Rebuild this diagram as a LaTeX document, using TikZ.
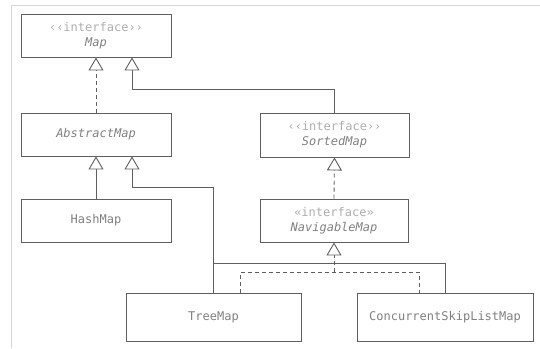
\documentclass[tikz,border=0pt]{standalone}
\usepackage{fontspec}
\setmonofont{DejaVu Sans Mono}
\usetikzlibrary{arrows.meta,positioning,calc}

\definecolor{umlline}{HTML}{5E5E5E}
\definecolor{umltext}{HTML}{808080}
\definecolor{umlstereo}{HTML}{ADADAD}
\definecolor{umlframe}{HTML}{D6D6D6}

\newcommand{\umliface}[2][‹‹interface››]{{\color{umlstereo}#1}\\\textit{#2}}

\begin{document}
\begin{tikzpicture}[x=1pt,y=-1pt,
    classbox/.style={draw=umlline, line width=0.9pt, minimum width=150pt, minimum height=43pt,
        inner sep=0pt, align=center, text=umltext, font=\ttfamily\fontsize{12}{15}\selectfont},
    plain/.style={draw=umlline, line width=0.9pt},
    extends/.style={plain, -{Triangle[length=13pt, width=15pt, fill=white]}},
    dashline/.style={plain, dash pattern=on 4pt off 3pt},
    implements/.style={dashline, -{Triangle[length=13pt, width=15pt, fill=white]}}]
        \useasboundingbox (0,0) rectangle (540,348);

        % Frame
        \draw[umlframe, line width=0.8pt] (11,348) -- (11,5) -- (540,5);

        % Classes
        \node[classbox] (map) at (96,35.5) {\umliface{Map}};
        \node[classbox] (abstract) at (96,134.5) {\textit{AbstractMap}};
        \node[classbox, minimum width=149pt, minimum height=44pt] (sorted) at (334.5,135) {\umliface{SortedMap}};
        \node[classbox] (hash) at (96,220.5) {HashMap};
        \node[classbox, minimum width=148pt] (navigable) at (334,220.5) {\umliface[«interface»]{NavigableMap}};
        \node[classbox, minimum width=175pt, minimum height=48pt] (tree) at (213.5,317) {TreeMap};
        \node[classbox, minimum width=176pt, minimum height=48pt] (cslm) at (445,317) {ConcurrentSkipListMap};

        % Map
        \draw[implements] (abstract.north) -- (map.south);
        \draw[extends] (sorted.north) -- ++(0,-23) -| ([xshift=36pt]map.south);

        % AbstractMap
        \draw[extends] (hash.north) -- (abstract.south);
        \draw[extends] (tree.north) -- ++(0,-105) -| ([xshift=36pt]abstract.south);
        \coordinate (junction) at ([yshift=29pt]tree.north);
        \draw[plain] (cslm.north) |- (junction);

        % SortedMap and NavigableMap
        \draw[implements] (navigable.north) -- (sorted.south);
        \coordinate (navbus) at ([yshift=-30pt]navigable.south);
        \draw[dashline] ([xshift=26.5pt]tree.north) |- (navbus) -| ([xshift=-26pt]cslm.north);
        \draw[implements] (navbus) -- (navigable.south);
    \end{tikzpicture}
\end{document}
